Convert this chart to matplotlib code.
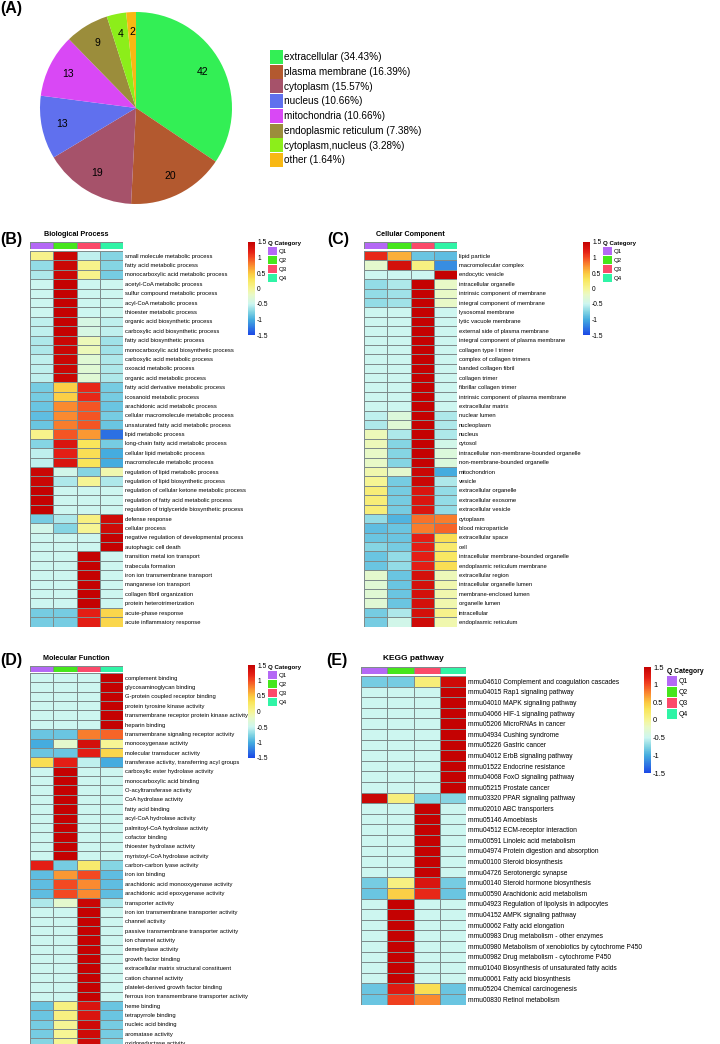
import numpy as np
import matplotlib
matplotlib.use('Agg')
import matplotlib.pyplot as plt
from matplotlib.colors import LinearSegmentedColormap, ListedColormap, Normalize
from matplotlib.cm import ScalarMappable
import matplotlib.patches as mpatches

plt.rcParams['font.family'] = ['Liberation Sans', 'DejaVu Sans']

# ---------------- data ----------------
pie_labels = ['extracellular', 'plasma membrane', 'cytoplasm', 'nucleus', 'mitochondria',
              'endoplasmic reticulum', 'cytoplasm,nucleus', 'other']
pie_counts = [42, 20, 19, 13, 13, 9, 4, 2]
pie_colors = ['#33ef55', '#b3592f', '#a6526a', '#6070ee', '#d948f5', '#9b8d3b', '#8cee1a', '#f8b814']

q_labels = ['Q1', 'Q2', 'Q3', 'Q4']
q_colors = ['#b468f5', '#46e61c', '#fb4a6a', '#30f4a6']

bp_terms = ['small molecule metabolic process', 'fatty acid metabolic process',
            'monocarboxylic acid metabolic process', 'acetyl-CoA metabolic process',
            'sulfur compound metabolic process', 'acyl-CoA metabolic process',
            'thioester metabolic process', 'organic acid biosynthetic process',
            'carboxylic acid biosynthetic process', 'fatty acid biosynthetic process',
            'monocarboxylic acid biosynthetic process', 'carboxylic acid metabolic process',
            'oxoacid metabolic process', 'organic acid metabolic process',
            'fatty acid derivative metabolic process', 'icosanoid metabolic process',
            'arachidonic acid metabolic process', 'cellular macromolecule metabolic process',
            'unsaturated fatty acid metabolic process', 'lipid metabolic process',
            'long-chain fatty acid metabolic process', 'cellular lipid metabolic process',
            'macromolecule metabolic process', 'regulation of lipid metabolic process',
            'regulation of lipid biosynthetic process', 'regulation of cellular ketone metabolic process',
            'regulation of fatty acid metabolic process', 'regulation of triglyceride biosynthetic process',
            'defense response', 'cellular process', 'negative regulation of developmental process',
            'autophagic cell death', 'transition metal ion transport', 'trabecula formation',
            'iron ion transmembrane transport', 'manganese ion transport',
            'collagen fibril organization', 'protein heterotrimerization',
            'acute-phase response', 'acute inflammatory response']
bp_values = [
    [0.05, 1.45, -0.55, -0.75], [-0.7, 1.45, 0.05, -0.75], [-0.6, 1.45, 0.05, -0.8],
    [-0.5, 1.5, -0.5, -0.5], [-0.5, 1.5, -0.5, -0.5], [-0.5, 1.5, -0.5, -0.5],
    [-0.5, 1.5, -0.5, -0.5], [-0.55, 1.5, -0.4, -0.55], [-0.55, 1.5, -0.4, -0.55],
    [-0.6, 1.45, -0.15, -0.65], [-0.6, 1.45, -0.15, -0.65], [-0.55, 1.45, -0.3, -0.6],
    [-0.55, 1.45, -0.3, -0.6], [-0.55, 1.45, -0.3, -0.6], [-0.8, 0.45, 1.15, -0.8],
    [-0.8, 0.45, 1.15, -0.8], [-0.85, 0.75, 0.95, -0.85], [-0.9, 0.75, 0.95, -0.8],
    [-0.85, 0.8, 0.95, -0.85], [0.05, 0.95, 0.7, -1.3], [-0.75, 1.3, 0.3, -0.8],
    [-0.55, 1.2, 0.35, -1.0], [-0.55, 1.3, 0.3, -1.0], [1.45, -0.45, -0.75, -0.1],
    [1.45, -0.6, 0.0, -0.6], [1.5, -0.5, -0.5, -0.5], [1.5, -0.5, -0.5, -0.5],
    [1.5, -0.5, -0.5, -0.5], [-0.8, -0.6, 0.1, 1.4], [-0.45, -0.75, 0.0, 1.4],
    [-0.5, -0.5, -0.5, 1.5], [-0.5, -0.5, -0.5, 1.5], [-0.5, -0.5, 1.5, -0.5],
    [-0.5, -0.5, 1.5, -0.5], [-0.5, -0.5, 1.5, -0.5], [-0.5, -0.5, 1.5, -0.5],
    [-0.5, -0.5, 1.5, -0.5], [-0.5, -0.5, 1.5, -0.5], [-0.8, -0.8, 1.2, 0.4],
    [-0.8, -0.8, 1.2, 0.4]]

cc_terms = ['lipid particle', 'macromolecular complex', 'endocytic vesicle', 'intracellular organelle',
            'intrinsic component of membrane', 'integral component of membrane', 'lysosomal membrane',
            'lytic vacuole membrane', 'external side of plasma membrane',
            'integral component of plasma membrane', 'collagen type I trimer',
            'complex of collagen trimers', 'banded collagen fibril', 'collagen trimer',
            'fibrillar collagen trimer', 'intrinsic component of plasma membrane',
            'extracellular matrix', 'nuclear lumen', 'nucleoplasm', 'nucleus', 'cytosol',
            'intracellular non-membrane-bounded organelle', 'non-membrane-bounded organelle',
            'mitochondrion', 'vesicle', 'extracellular organelle', 'extracellular exosome',
            'extracellular vesicle', 'cytoplasm', 'blood microparticle', 'extracellular space',
            'cell', 'intracellular membrane-bounded organelle', 'endoplasmic reticulum membrane',
            'extracellular region', 'intracellular organelle lumen', 'membrane-enclosed lumen',
            'organelle lumen', 'intracellular', 'endoplasmic reticulum']
cc_values = [
    [1.15, 0.6, -0.85, -0.9], [-0.25, 1.35, 0.1, -1.15], [-0.5, -0.5, -0.5, 1.5],
    [-0.7, -0.6, 1.5, -0.2], [-0.7, -0.65, 1.5, -0.2], [-0.7, -0.65, 1.5, -0.2],
    [-0.5, -0.5, 1.5, -0.5], [-0.5, -0.5, 1.5, -0.5], [-0.5, -0.5, 1.5, -0.5],
    [-0.5, -0.5, 1.5, -0.5], [-0.5, -0.5, 1.5, -0.5], [-0.5, -0.5, 1.5, -0.5],
    [-0.5, -0.5, 1.5, -0.5], [-0.5, -0.5, 1.5, -0.5], [-0.5, -0.5, 1.5, -0.5],
    [-0.5, -0.5, 1.5, -0.5], [-0.5, -0.5, 1.5, -0.5], [-0.55, -0.35, 1.5, -0.6],
    [-0.6, -0.3, 1.5, -0.6], [-0.15, -0.6, 1.5, -0.6], [-0.15, -0.75, 1.5, -0.45],
    [-0.2, -0.75, 1.5, -0.35], [-0.2, -0.75, 1.5, -0.35], [-0.1, -0.25, 1.45, -1.0],
    [0.0, -0.8, 1.45, -0.6], [0.15, -0.8, 1.3, -0.7], [0.15, -0.8, 1.3, -0.7],
    [0.15, -0.8, 1.3, -0.7], [-0.7, -0.95, 0.85, 0.8], [-0.9, -0.85, 0.8, 0.9],
    [-0.85, -0.85, 1.2, 0.35], [-0.75, -0.8, 1.2, 0.2], [-0.85, -0.7, 1.2, 0.25],
    [-0.85, -0.7, 1.2, 0.35], [-0.25, -0.85, 1.35, -0.15], [-0.3, -0.85, 1.35, -0.1],
    [-0.3, -0.85, 1.35, -0.1], [-0.3, -0.85, 1.35, -0.1], [-0.8, -0.6, 1.35, 0.05],
    [-0.8, -0.45, 1.4, -0.1]]

mf_terms = ['complement binding', 'glycosaminoglycan binding', 'G-protein coupled receptor binding',
            'protein tyrosine kinase activity', 'transmembrane receptor protein kinase activity',
            'heparin binding', 'transmembrane signaling receptor activity', 'monooxygenase activity',
            'molecular transducer activity', 'transferase activity, transferring acyl groups',
            'carboxylic ester hydrolase activity', 'monocarboxylic acid binding',
            'O-acyltransferase activity', 'CoA hydrolase activity', 'fatty acid binding',
            'acyl-CoA hydrolase activity', 'palmitoyl-CoA hydrolase activity', 'cofactor binding',
            'thioester hydrolase activity', 'myristoyl-CoA hydrolase activity',
            'carbon-carbon lyase activity', 'iron ion binding',
            'arachidonic acid monooxygenase activity', 'arachidonic acid epoxygenase activity',
            'transporter activity', 'iron ion transmembrane transporter activity', 'channel activity',
            'passive transmembrane transporter activity', 'ion channel activity',
            'demethylase activity', 'growth factor binding',
            'extracellular matrix structural constituent', 'cation channel activity',
            'platelet-derived growth factor binding',
            'ferrous iron transmembrane transporter activity', 'heme binding',
            'tetrapyrrole binding', 'nucleic acid binding', 'aromatase activity',
            'oxidoreductase activity']
mf_values = [
    [-0.5, -0.5, -0.5, 1.5], [-0.5, -0.5, -0.5, 1.5], [-0.5, -0.5, -0.5, 1.5],
    [-0.5, -0.5, -0.5, 1.5], [-0.5, -0.5, -0.5, 1.5], [-0.5, -0.5, -0.5, 1.5],
    [-0.85, -0.85, 0.8, 0.9], [-1.0, -0.25, 1.35, 0.0], [-0.85, -0.85, 1.2, 0.4],
    [0.35, 1.2, -0.55, -1.0], [-0.5, 1.5, -0.5, -0.5], [-0.5, 1.5, -0.5, -0.5],
    [-0.5, 1.5, -0.5, -0.5], [-0.5, 1.5, -0.5, -0.5], [-0.5, 1.5, -0.5, -0.5],
    [-0.5, 1.5, -0.5, -0.5], [-0.5, 1.5, -0.5, -0.5], [-0.5, 1.5, -0.5, -0.5],
    [-0.5, 1.5, -0.5, -0.5], [-0.5, 1.5, -0.5, -0.5], [1.2, -0.8, 0.2, -0.75],
    [-0.9, 0.7, 1.0, -0.9], [-0.9, 1.0, 0.75, -0.9], [-0.9, 1.0, 0.75, -0.9],
    [-0.6, -0.25, 1.45, -0.6], [-0.5, -0.5, 1.5, -0.5], [-0.5, -0.5, 1.5, -0.5],
    [-0.5, -0.5, 1.5, -0.5], [-0.5, -0.5, 1.5, -0.5], [-0.5, -0.5, 1.5, -0.5],
    [-0.5, -0.5, 1.5, -0.5], [-0.5, -0.5, 1.5, -0.5], [-0.5, -0.5, 1.5, -0.5],
    [-0.5, -0.5, 1.5, -0.5], [-0.5, -0.5, 1.5, -0.5], [-0.85, 0.1, 1.3, -0.85],
    [-0.85, 0.1, 1.3, -0.85], [-0.8, 0.0, 1.4, -0.8], [-0.8, 0.0, 1.4, -0.8],
    [-0.75, 0.0, 1.4, -0.75]]

kegg_terms = ['mmu04610 Complement and coagulation cascades', 'mmu04015 Rap1 signaling pathway',
              'mmu04010 MAPK signaling pathway', 'mmu04066 HIF-1 signaling pathway',
              'mmu05206 MicroRNAs in cancer', 'mmu04934 Cushing syndrome',
              'mmu05226 Gastric cancer', 'mmu04012 ErbB signaling pathway',
              'mmu01522 Endocrine resistance', 'mmu04068 FoxO signaling pathway',
              'mmu05215 Prostate cancer', 'mmu03320 PPAR signaling pathway',
              'mmu02010 ABC transporters', 'mmu05146 Amoebiasis',
              'mmu04512 ECM-receptor interaction', 'mmu00591 Linoleic acid metabolism',
              'mmu04974 Protein digestion and absorption', 'mmu00100 Steroid biosynthesis',
              'mmu04726 Serotonergic synapse', 'mmu00140 Steroid hormone biosynthesis',
              'mmu00590 Arachidonic acid metabolism', 'mmu04923 Regulation of lipolysis in adipocytes',
              'mmu04152 AMPK signaling pathway', 'mmu00062 Fatty acid elongation',
              'mmu00983 Drug metabolism - other enzymes',
              'mmu00980 Metabolism of xenobiotics by cytochrome P450',
              'mmu00982 Drug metabolism - cytochrome P450',
              'mmu01040 Biosynthesis of unsaturated fatty acids',
              'mmu00061 Fatty acid biosynthesis', 'mmu05204 Chemical carcinogenesis',
              'mmu00830 Retinol metabolism']
kegg_values = [
    [-0.8, -0.8, 0.15, 1.4], [-0.5, -0.5, -0.5, 1.5], [-0.5, -0.5, -0.5, 1.5],
    [-0.5, -0.5, -0.5, 1.5], [-0.5, -0.5, -0.5, 1.5], [-0.5, -0.5, -0.5, 1.5],
    [-0.5, -0.5, -0.5, 1.5], [-0.5, -0.5, -0.5, 1.5], [-0.5, -0.5, -0.5, 1.5],
    [-0.5, -0.5, -0.5, 1.5], [-0.5, -0.5, -0.5, 1.5], [1.45, 0.12, -0.75, -0.75],
    [-0.5, -0.5, 1.5, -0.5], [-0.5, -0.5, 1.5, -0.5], [-0.5, -0.5, 1.5, -0.5],
    [-0.5, -0.5, 1.5, -0.5], [-0.5, -0.5, 1.5, -0.5], [-0.5, -0.5, 1.5, -0.5],
    [-0.5, -0.5, 1.5, -0.5], [-0.8, 0.1, 1.3, -0.8], [-0.85, 0.45, 1.15, -0.85],
    [-0.5, 1.5, -0.5, -0.5], [-0.5, 1.5, -0.5, -0.5], [-0.5, 1.5, -0.5, -0.5],
    [-0.5, 1.5, -0.5, -0.5], [-0.5, 1.5, -0.5, -0.5], [-0.5, 1.5, -0.5, -0.5],
    [-0.5, 1.5, -0.5, -0.5], [-0.5, 1.5, -0.5, -0.5], [-0.85, 1.25, 0.35, -0.85],
    [-0.85, 1.05, 0.75, -0.85]]

cbar_ticks = [-1.5, -1, -0.5, 0, 0.5, 1, 1.5]
cbar_ticklabels = ['-1.5', '-1', '-0.5', '0', '0.5', '1', '1.5']

# ---------------- styling ----------------
W, H = 720, 1044
fig = plt.figure(figsize=(W / 100, H / 100), dpi=100)

stops = [(-1.5, '#1b48e6'), (-1.0, '#46addf'), (-0.75, '#84d5e3'), (-0.5, '#cdf6f0'),
         (-0.2, '#e9f9c6'), (0.0, '#f6f595'), (0.3, '#f9e55a'), (0.5, '#fbc840'),
         (0.75, '#fa8c30'), (1.0, '#f34a22'), (1.2, '#e41f15'), (1.5, '#c40202')]
cmap = LinearSegmentedColormap.from_list('hm', [((v + 1.5) / 3.0, c) for v, c in stops])
norm = Normalize(-1.5, 1.5)
GRID = '#7f8c8c'


def px_axes(x0, y0, x1, y1):
    return fig.add_axes([x0 / W, 1 - y1 / H, (x1 - x0) / W, (y1 - y0) / H])


def panel_label(txt, x, y):
    fig.text(x / W, 1 - y / H, txt, ha='center', va='center', fontsize=11.5, fontweight='bold')


def heatmap(values, terms, title, x0, x1, hy0, hy1, ytop, row_h, title_y,
            fs_lab, fs_title, cbar_box, cb_fs, leg_xy, leg_fs, leg_w, leg_h, leg_sp):
    vals = np.array(values)
    n = vals.shape[0]
    # header (Q categories)
    hax = px_axes(x0, hy0, x1, hy1)
    hax.pcolormesh(np.arange(4)[None, :], cmap=ListedColormap(q_colors), vmin=-0.5, vmax=3.5,
                   edgecolors=GRID, linewidth=0.4)
    hax.set_axis_off()
    # main heatmap
    ax = px_axes(x0, ytop, x1, ytop + n * row_h)
    ax.pcolormesh(vals, cmap=cmap, norm=norm, edgecolors=GRID, linewidth=0.4)
    ax.set_xlim(0, 4)
    ax.set_ylim(n, 0)
    ax.set_xticks([])
    ax.set_yticks(np.arange(n) + 0.5)
    ax.set_yticklabels(terms)
    ax.yaxis.tick_right()
    ax.tick_params(axis='y', length=0, pad=1.3, labelsize=fs_lab)
    for s in ax.spines.values():
        s.set_visible(False)
    fig.text(((x0 + x1) / 2) / W, 1 - title_y / H, title, ha='center', va='center',
             fontsize=fs_title, fontweight='bold')
    # colorbar
    cax = px_axes(*cbar_box)
    cb = fig.colorbar(ScalarMappable(norm=norm, cmap=cmap), cax=cax, ticks=cbar_ticks)
    cb.set_ticklabels(cbar_ticklabels)
    cb.outline.set_visible(False)
    cax.tick_params(length=0, labelsize=cb_fs, pad=1.5)
    # Q legend
    handles = [mpatches.Patch(facecolor=c, edgecolor='none', label=l) for c, l in zip(q_colors, q_labels)]
    fig.legend(handles=handles, title='Q Category', loc='upper left',
               bbox_to_anchor=(leg_xy[0] / W, 1 - leg_xy[1] / H), frameon=False,
               fontsize=leg_fs, title_fontproperties={'weight': 'bold', 'size': leg_fs},
               handlelength=leg_w, handleheight=leg_h, handletextpad=0.3,
               labelspacing=leg_sp, borderpad=0, borderaxespad=0, alignment='left')
    return ax


# ---------------- (A) pie ----------------
panel_label('(A)', 11, 9)
total = sum(pie_counts)
pax = px_axes(40, 12, 232, 204)
wedges, _, autotexts = pax.pie(pie_counts, colors=pie_colors, startangle=90, counterclock=False,
                               autopct=lambda p: f"{p * total / 100:.0f}", pctdistance=0.79,
                               wedgeprops=dict(linewidth=0),
                               textprops=dict(fontsize=7.5, color='black'))
pax.set_xlim(-1, 1)
pax.set_ylim(-1, 1)
leg_labels = [f"{l} ({c / total * 100:.2f}%)" for l, c in zip(pie_labels, pie_counts)]
fig.legend(wedges, leg_labels, loc='upper left', bbox_to_anchor=(270 / W, 1 - 50 / H),
           frameon=False, fontsize=7.2, handlelength=1.3, handleheight=1.78, handletextpad=0.1,
           labelspacing=0.07, borderpad=0, borderaxespad=0)

# ---------------- (B) ----------------
panel_label('(B)', 11, 240)
heatmap(bp_values, bp_terms, 'Biological Process', 30, 123, 242, 249, 251, 9.39, 235,
        4.2, 5.2, (248, 242, 255, 335), 4.8, (268, 241), 4.4, 1.4, 1.7, 0.12)

# ---------------- (C) ----------------
panel_label('(C)', 338, 240)
heatmap(cc_values, cc_terms, 'Cellular Component', 364, 457, 242, 249, 251, 9.39, 235,
        4.2, 5.2, (583, 242, 590, 335), 4.8, (603, 241), 4.4, 1.4, 1.7, 0.12)

# ---------------- (D) ----------------
panel_label('(D)', 11, 661)
heatmap(mf_values, mf_terms, 'Molecular Function', 30, 123, 666, 672, 673, 9.37, 658,
        4.2, 5.2, (248, 665, 255, 758), 4.8, (268, 665), 4.4, 1.4, 1.7, 0.12)

# ---------------- (E) ----------------
panel_label('(E)', 337, 661)
heatmap(kegg_values, kegg_terms, 'KEGG pathway', 361, 466, 667, 674, 676, 10.6, 658,
        4.8, 6.0, (644, 667, 651, 773), 5.4, (667, 668), 4.9, 1.45, 1.88, 0.15)

fig.savefig('out.png', dpi=100, facecolor='white')
